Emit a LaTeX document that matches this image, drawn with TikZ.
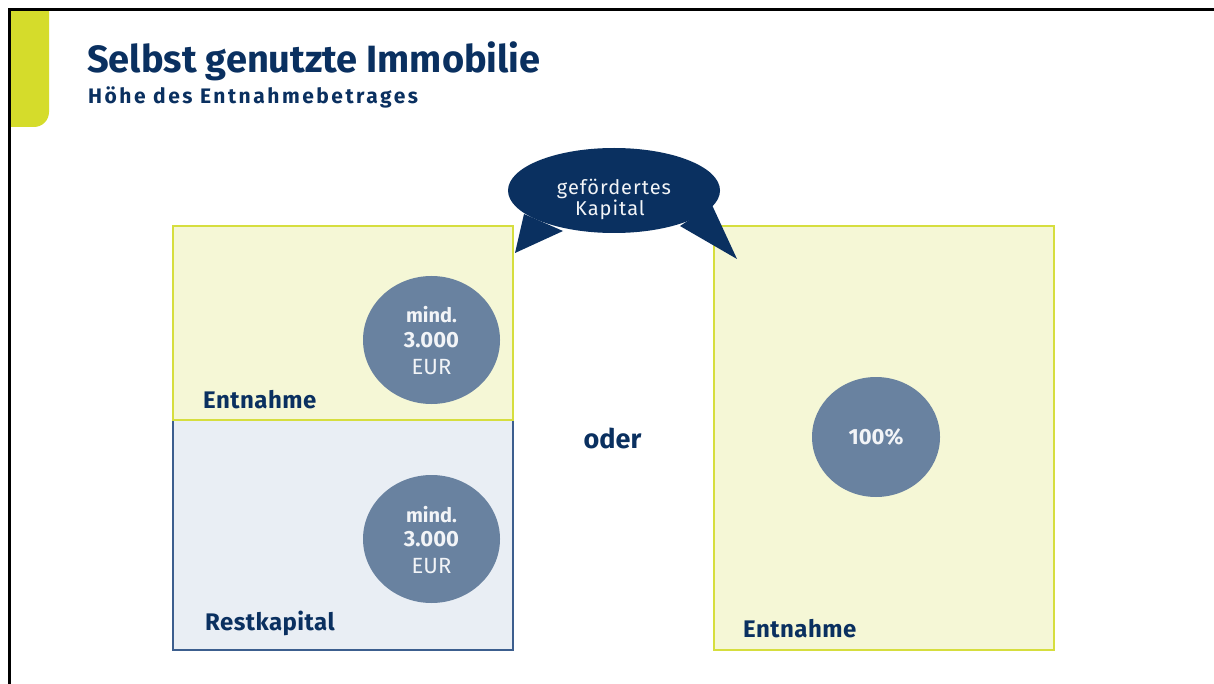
\documentclass[tikz,border=0pt]{standalone}
\usepackage{fontspec}
\setmainfont{Fira Sans}
\usetikzlibrary{shapes.geometric}
\definecolor{navy}{HTML}{0A3060}
\definecolor{tabyellow}{HTML}{D5DC2B}
\definecolor{paleyellow}{HTML}{F5F7D6}
\definecolor{lineyellow}{HTML}{D6DE3E}
\definecolor{paleblue}{HTML}{E9EEF4}
\definecolor{lineblue}{HTML}{3C5E8E}
\definecolor{disc}{HTML}{6982A0}
\definecolor{disctext}{HTML}{F2F4F7}
\newcommand{\spaced}[1]{\addfontfeature{LetterSpace=#1}}
\tikzset{
  yellowbox/.style={fill=paleyellow, draw=lineyellow, line width=2pt},
  bluebox/.style={fill=paleblue, draw=lineblue, line width=2pt},
  disc/.style={ellipse, fill=disc, inner sep=0pt, minimum width=137pt, minimum height=128pt},
  boxlabel/.style={anchor=base west, inner sep=0pt, text=navy, font=\bfseries\fontsize{24}{28}\selectfont\spaced{2}},
  discbold/.style={anchor=base, inner sep=0pt, text=disctext, font=\bfseries\fontsize{#1}{#1}\selectfont},
  discreg/.style={anchor=base, inner sep=0pt, text=disctext, font=\fontsize{#1}{#1}\selectfont},
  bubble/.style={ellipse, fill=navy, inner sep=0pt, minimum width=212pt, minimum height=85pt},
  bubbletext/.style={anchor=base, inner sep=0pt, text=disctext, font=\fontsize{20}{20}\selectfont\spaced{5}},
}
\begin{document}
\begin{tikzpicture}[x=1pt, y=-1pt]
\useasboundingbox (0,0) rectangle (1214,684);
\fill[white] (0,0) rectangle (1214,684);

% accent tab in the top left corner
\fill[tabyellow] (11,11) -- (49,11) -- (49,112)
  .. controls (49,120.28) and (42.28,127) .. (34,127) -- (11,127) -- cycle;

% page frame
\draw[black, line width=3pt] (9.5,690) -- (9.5,9.5) -- (1220,9.5);

% headings
\node[anchor=base west, inner sep=0pt, text=navy, font=\bfseries\fontsize{38}{42}\selectfont]
  (title) at (87,73) {Selbst genutzte Immobilie};
\node[anchor=base west, inner sep=0pt, text=navy, font=\bfseries\fontsize{21}{25}\selectfont\spaced{12}]
  (subtitle) at (88,104) {Höhe des Entnahmebetrages};

% left column: withdrawal on top, remaining capital below
\draw[bluebox] (173,420) rectangle (513,650);
\draw[yellowbox] (173,226) rectangle (513,420);
\node[disc] (c1) at (431.5,340) {};
\node[disc] (c2) at (431.5,539) {};
\node[discbold=20] (c1a) at (431.5,323) {mind.};
\node[discbold=22] (c1b) at (431.5,347) {3.000};
\node[discreg=22]  (c1c) at (431.5,374) {EUR};
\node[discbold=20] (c2a) at (431.5,522) {mind.};
\node[discbold=22] (c2b) at (431.5,546) {3.000};
\node[discreg=22]  (c2c) at (431.5,573) {EUR};
\node[boxlabel] (l1) at (203,408) {Entnahme};
\node[boxlabel] (l2) at (205,630) {Restkapital};

% alternative
\node[anchor=base, inner sep=0pt, text=navy, font=\bfseries\fontsize{27}{30}\selectfont]
  (oder) at (612.5,448) {oder};

% right column: full withdrawal
\draw[yellowbox] (714,226) rectangle (1054,650);
\node[disc, minimum width=128pt, minimum height=120pt] (c3) at (876,437) {};
\node[discbold=22] (c3a) at (876,444) {100\%};
\node[boxlabel] (l3) at (743,637) {Entnahme};

% speech bubble with two tails
\fill[navy] (524,214) -- (515,253) -- (563,231) -- cycle;
\fill[navy] (680,226) -- (737,259) -- (712,205) -- cycle;
\node[bubble] (bub) at (614,190.5) {};
\node[bubbletext] (bub1) at (614,195) {gefördertes};
\node[bubbletext] (bub2) at (610,216) {Kapital};
\end{tikzpicture}
\end{document}
